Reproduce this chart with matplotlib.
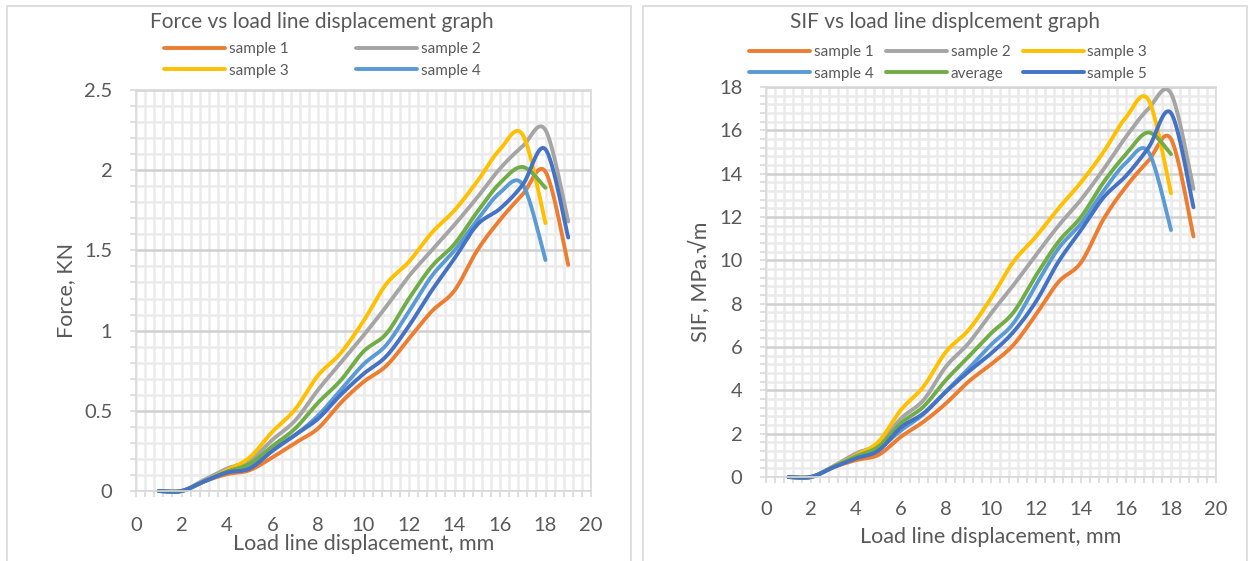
import numpy as np
import matplotlib
matplotlib.use("Agg")
import matplotlib.pyplot as plt
from matplotlib.patches import Rectangle
from matplotlib.ticker import MultipleLocator

plt.rcParams['font.family'] = ['Lato', 'DejaVu Sans']

# ---- data -------------------------------------------------------------
disp_long = [1, 2, 3, 4, 5, 6, 7, 8, 9, 10, 11, 12, 13, 14, 15, 16, 17, 18, 19]
disp_short = disp_long[:18]

# Force (kN)
force_s1 = [0, 0, 0.06, 0.105, 0.13, 0.21, 0.30, 0.39, 0.55, 0.68, 0.78, 0.95, 1.12, 1.25, 1.50, 1.69, 1.85, 1.99, 1.41]
force_s2 = [0, 0, 0.07, 0.14, 0.19, 0.32, 0.44, 0.63, 0.80, 0.97, 1.15, 1.34, 1.50, 1.66, 1.83, 2.01, 2.15, 2.25, 1.68]
force_s3 = [0, 0, 0.06, 0.13, 0.21, 0.37, 0.51, 0.72, 0.86, 1.06, 1.29, 1.43, 1.61, 1.75, 1.93, 2.13, 2.22, 1.67]
force_s4 = [0, 0, 0.06, 0.12, 0.16, 0.26, 0.35, 0.47, 0.63, 0.79, 0.91, 1.12, 1.34, 1.50, 1.69, 1.86, 1.91, 1.44]
force_avg = [0, 0, 0.06, 0.12, 0.17, 0.28, 0.39, 0.55, 0.69, 0.87, 0.98, 1.20, 1.40, 1.54, 1.74, 1.92, 2.02, 1.89]
force_s5 = [0, 0, 0.06, 0.115, 0.14, 0.25, 0.35, 0.45, 0.60, 0.73, 0.84, 1.03, 1.25, 1.45, 1.66, 1.76, 1.91, 2.13, 1.58]

# Stress intensity factor (MPa.√m)
sif_s1 = [0, 0, 0.45, 0.78, 1.02, 1.86, 2.55, 3.4, 4.4, 5.2, 6.1, 7.5, 9.0, 9.9, 11.9, 13.4, 14.6, 15.6, 11.1]
sif_s2 = [0, 0, 0.5, 1.09, 1.52, 2.7, 3.55, 5.1, 6.17, 7.55, 8.86, 10.25, 11.6, 12.8, 14.2, 15.7, 17.0, 17.7, 13.3]
sif_s3 = [0, 0, 0.48, 1.0, 1.63, 3.1, 4.17, 5.78, 6.78, 8.25, 9.94, 11.1, 12.4, 13.6, 15.0, 16.6, 17.4, 13.1]
sif_s4 = [0, 0, 0.46, 0.9, 1.3, 2.15, 2.9, 3.95, 5.0, 6.1, 7.1, 8.86, 10.55, 11.7, 13.2, 14.5, 15.0, 11.4]
sif_avg = [0, 0, 0.47, 0.95, 1.4, 2.48, 3.25, 4.48, 5.55, 6.63, 7.6, 9.3, 10.86, 12.0, 13.6, 14.9, 15.9, 14.9]
sif_s5 = [0, 0, 0.45, 0.86, 1.22, 2.29, 2.94, 3.94, 4.86, 5.7, 6.7, 8.1, 9.94, 11.4, 12.9, 13.9, 15.2, 16.8, 12.45]

series_colors = {
    'sample 1': '#ED7D31',
    'sample 2': '#A5A5A5',
    'sample 3': '#FFC000',
    'sample 4': '#5B9BD5',
    'average': '#70AD47',
    'sample 5': '#4472C4',
}

TEXT = '#595959'


def smooth(x, y, n=24):
    """Catmull-Rom curve through the points (same look as a smoothed line)."""
    pts = np.column_stack([x, y]).astype(float)
    P = np.vstack([pts[0], pts, pts[-1]])
    t = np.linspace(0, 1, n, endpoint=False)[:, None]
    out = []
    for i in range(1, len(P) - 2):
        p0, p1, p2, p3 = P[i - 1], P[i], P[i + 1], P[i + 2]
        seg = 0.5 * ((2 * p1) + (-p0 + p2) * t
                     + (2 * p0 - 5 * p1 + 4 * p2 - p3) * t ** 2
                     + (-p0 + 3 * p1 - 3 * p2 + p3) * t ** 3)
        out.append(seg)
    out.append(pts[-1][None])
    c = np.vstack(out)
    return c[:, 0], c[:, 1]


W, H = 1253, 561
fig = plt.figure(figsize=(W / 100, H / 100), dpi=100)

# chart frames
for x0, x1 in [(7, 631), (643, 1247)]:
    fig.patches.append(Rectangle((x0 / W, -0.05), (x1 - x0) / W, (H - 6) / H + 0.05,
                                 transform=fig.transFigure, fill=False,
                                 edgecolor='#D9D9D9', linewidth=1.2))


def style_axes(ax, ymajor, yminor, ymax):
    ax.set_xlim(0, 20)
    ax.set_ylim(0, ymax)
    ax.xaxis.set_major_locator(MultipleLocator(2))
    ax.xaxis.set_minor_locator(MultipleLocator(0.4))
    ax.yaxis.set_major_locator(MultipleLocator(ymajor))
    ax.yaxis.set_minor_locator(MultipleLocator(yminor))
    ax.grid(which='minor', axis='both', color='#EBEBEB', linewidth=1.8)
    ax.grid(which='major', axis='y', color='#D0D0D0', linewidth=1.8)
    ax.grid(which='major', axis='x', color='#EBEBEB', linewidth=1.8)
    ax.set_axisbelow(True)
    for s in ax.spines.values():
        s.set_color('#D9D9D9')
        s.set_linewidth(1.2)
    ax.tick_params(axis='both', which='both', direction='out', color='#D9D9D9',
                   length=4, width=1.2, labelsize=14.5, labelcolor=TEXT)
    ax.tick_params(axis='x', which='major', pad=15)
    ax.tick_params(axis='y', which='major', pad=13)


def draw(ax, xs, ys, name, label):
    sx, sy = smooth(xs, ys)
    ln, = ax.plot(sx, sy, color=series_colors[name], linewidth=2.8,
                  solid_capstyle='round', label=label, clip_on=False)
    return ln


# ---- left: force ------------------------------------------------------
ax1 = fig.add_axes([136 / W, (H - 491) / H, 455 / W, 401 / H])
style_axes(ax1, 0.5, 0.1, 2.5)
ax1.set_yticks([0, 0.5, 1, 1.5, 2, 2.5])
ax1.set_yticklabels(['0', '0.5', '1', '1.5', '2', '2.5'])

left_series = [
    ('sample 1', disp_long, force_s1, True),
    ('sample 2', disp_long, force_s2, True),
    ('sample 3', disp_short, force_s3, True),
    ('sample 4', disp_short, force_s4, True),
    ('average', disp_short, force_avg, False),
    ('sample 5', disp_long, force_s5, False),
]
h1 = {}
for name, xs, ys, shown in left_series:
    h1[name] = draw(ax1, xs, ys, name, name if shown else '_nolegend_')

ax1.set_xlabel('Load line displacement, mm', fontsize=15.5, color=TEXT, labelpad=0)
ax1.set_ylabel('Force, KN', fontsize=15.5, color=TEXT, labelpad=6)

fig.text(322 / W, 1 - 22 / H, 'Force vs load line displacement graph',
         ha='center', va='center', fontsize=15, color=TEXT)

order1 = ['sample 1', 'sample 3', 'sample 2', 'sample 4']
fig.legend([h1[k] for k in order1], order1, ncol=2, loc='center',
           bbox_to_anchor=(322 / W, 1 - 60 / H), frameon=False, fontsize=11,
           labelcolor=TEXT, handlelength=4.0, handletextpad=0.25,
           columnspacing=4.4, labelspacing=0.5, borderpad=0)

# ---- right: SIF -------------------------------------------------------
ax2 = fig.add_axes([766 / W, (H - 477) / H, 450 / W, 390 / H])
style_axes(ax2, 2, 0.4, 18)
ax2.tick_params(axis='x', which='major', pad=13)

right_series = [
    ('sample 1', disp_long, sif_s1),
    ('sample 2', disp_long, sif_s2),
    ('sample 3', disp_short, sif_s3),
    ('sample 4', disp_short, sif_s4),
    ('average', disp_short, sif_avg),
    ('sample 5', disp_long, sif_s5),
]
h2 = {}
for name, xs, ys in right_series:
    h2[name] = draw(ax2, xs, ys, name, name)

ax2.set_xlabel('Load line displacement, mm', fontsize=15.5, color=TEXT, labelpad=7)
ax2.set_ylabel('SIF, MPa.√m', fontsize=15.5, color=TEXT, labelpad=6)

fig.text(945 / W, 1 - 22 / H, 'SIF vs load line displcement graph',
         ha='center', va='center', fontsize=15, color=TEXT)

order2 = ['sample 1', 'sample 4', 'sample 2', 'average', 'sample 3', 'sample 5']
fig.legend([h2[k] for k in order2], order2, ncol=3, loc='center',
           bbox_to_anchor=(948 / W, 1 - 63 / H), frameon=False, fontsize=11,
           labelcolor=TEXT, handlelength=4.0, handletextpad=0.25,
           columnspacing=0.8, labelspacing=0.5, borderpad=0)

fig.savefig('out.png', dpi=100, facecolor='white')
